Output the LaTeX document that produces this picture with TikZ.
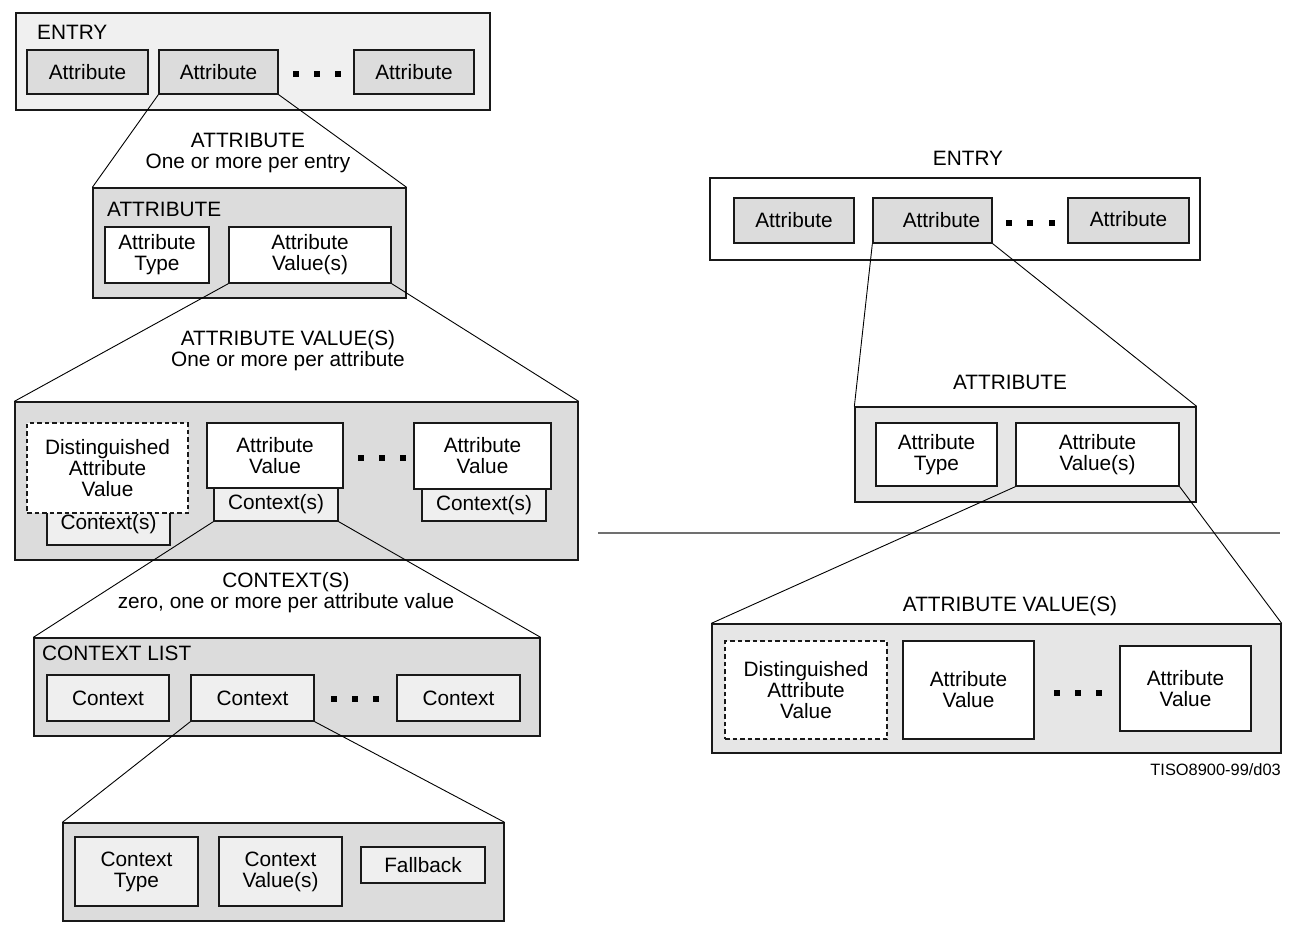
\documentclass[tikz,border=0pt]{standalone}
\usepackage{fontspec}
\setmainfont{Liberation Sans}
\definecolor{cF0}{HTML}{F0F0F0}
\definecolor{cDC}{HTML}{DCDCDC}
\definecolor{cEF}{HTML}{EFEFEF}
\definecolor{cE6}{HTML}{E6E6E6}
\definecolor{rulegray}{HTML}{707070}
\newcommand\bx[7]{\node[boxy,#6,minimum width={(#4)-(#2)},minimum height={(#5)-(#3)}] (#1) at ({((#2)+(#4))/2},{((#3)+(#5))/2}) {#7};}
\newcommand\sqdot[2]{\fill (#1-2.6,#2-2.6) rectangle (#1+2.6,#2+2.6);}
\tikzset{
  every node/.style={font={\fontsize{20.8}{21}\selectfont},inner sep=0pt,align=center},
  boxy/.style={draw=black!90,line width=1.3pt},
  dashbox/.style={dash pattern=on 4.5pt off 3pt},
  conn/.style={draw=black,line width=0.9pt},
  capt/.style={},
  small/.style={font={\fontsize{16.4}{18}\selectfont}}
}
\begin{document}
\begin{tikzpicture}[x=1pt,y=-1pt]
\useasboundingbox (0,0) rectangle (1290,929);
% ---------------- left: ENTRY
\bx{lentry}{16}{13}{490}{110}{fill=cF0}{}
\node[anchor=west] (lentrylbl) at (37,32) {ENTRY};
\bx{la1}{27}{50}{148}{94}{fill=cDC}{Attribute}
\bx{la2}{159}{50}{278}{94}{fill=cDC}{Attribute}
\bx{la3}{354}{50}{474}{94}{fill=cDC}{Attribute}
\sqdot{296}{74}\sqdot{317}{74}\sqdot{338}{74}
% ---------------- left: ATTRIBUTE
\node[capt] (lattrcap) at (248,153) {ATTRIBUTE\\One or more per entry};
\bx{lattr}{93}{188}{406}{298}{fill=cDC}{}
\node[anchor=west] (lattrlbl) at (107,209) {ATTRIBUTE};
\bx{ltype}{105}{227}{209}{283}{fill=white}{Attribute\\Type}
\bx{lval}{229}{227}{391}{283}{fill=white}{Attribute\\Value(s)}
% ---------------- left: ATTRIBUTE VALUE(S)
\node[capt] (lavcap) at (288,351) {ATTRIBUTE VALUE(S)\\One or more per attribute};
\bx{lav}{15}{402}{578}{560}{fill=cDC}{}
\bx{lc1}{47}{503}{170}{545}{fill=cEF}{\raisebox{-5pt}{Context(s)}}
\bx{ldav}{27}{423}{188}{513}{dashbox,fill=white}{Distinguished\\Attribute\\Value}
\bx{lc2}{214}{488}{338}{521}{fill=cEF}{Context(s)}
\bx{lav2}{207}{423}{343}{488}{fill=white}{Attribute\\Value}
\bx{lc3}{422}{489}{546}{521}{fill=cEF}{Context(s)}
\bx{lav3}{414}{423}{551}{489}{fill=white}{Attribute\\Value}
\sqdot{361}{458}\sqdot{382}{458}\sqdot{403}{458}
% ---------------- left: CONTEXT LIST
\node[capt] (lctxcap) at (286,593) {CONTEXT(S)\\zero, one or more per attribute value};
\bx{lcl}{34}{638}{540}{736}{fill=cDC}{}
\node[anchor=west] (lcllbl) at (42,653) {CONTEXT LIST};
\bx{lk1}{47}{675}{169}{721}{fill=cEF}{Context}
\bx{lk2}{191}{675}{314}{721}{fill=cEF}{Context}
\bx{lk3}{397}{675}{520}{721}{fill=cEF}{Context}
\sqdot{334}{699}\sqdot{355}{699}\sqdot{376}{699}
% ---------------- left: context detail
\bx{lbot}{63}{823}{504}{921}{fill=cDC}{}
\bx{lct}{75}{837}{198}{906}{fill=cEF}{Context\\Type}
\bx{lcv}{219}{837}{342}{906}{fill=cEF}{Context\\Value(s)}
\bx{lfb}{361}{847}{485}{883}{fill=cEF}{Fallback}
% ---------------- left connectors
\draw[conn] (la2.south west) -- (lattr.north west);
\draw[conn] (la2.south east) -- (lattr.north east);
\draw[conn] (lval.south west) -- (lav.north west);
\draw[conn] (lval.south east) -- (lav.north east);
\draw[conn] (lc2.south west) -- (lcl.north west);
\draw[conn] (lc2.south east) -- (lcl.north east);
\draw[conn] (lk2.south west) -- (lbot.north west);
\draw[conn] (lk2.south east) -- (lbot.north east);
% ---------------- right: ENTRY
\node[capt] (rentrycap) at (968,158) {ENTRY};
\bx{rentry}{710}{178}{1200}{260}{fill=white}{}
\bx{ra1}{734}{198}{854}{243}{fill=cDC}{Attribute}
\bx{ra2}{873}{198}{992}{243}{fill=cDC}{\hspace*{18pt}\raisebox{-2pt}{Attribute}}
\bx{ra3}{1068}{198}{1189}{243}{fill=cDC}{\raisebox{3pt}{Attribute}}
\sqdot{1009}{223}\sqdot{1030}{223}\sqdot{1052}{223}
% ---------------- right: ATTRIBUTE
\node[capt] (rattrcap) at (1010,382) {ATTRIBUTE};
\bx{rattr}{855}{407}{1196}{502}{fill=cE6}{}
\bx{rtype}{876}{423}{997}{486}{fill=white}{Attribute\\Type}
\bx{rval}{1016}{423}{1179}{486}{fill=white}{Attribute\\Value(s)}
% ---------------- separator
\coordinate (sepL) at (598,533);
\coordinate (sepR) at (1280,533);
\draw[draw=rulegray,line width=1.1pt] (sepL) -- (sepR);
% ---------------- right: ATTRIBUTE VALUE(S)
\node[capt] (ravcap) at (1010,606) {ATTRIBUTE VALUE(S)};
\bx{rav}{712}{624}{1281}{753}{fill=cE6}{}
\bx{rdav}{725}{641}{887}{739}{dashbox,fill=white}{Distinguished\\Attribute\\Value}
\bx{rav2}{903}{641}{1034}{739}{fill=white}{Attribute\\Value}
\bx{rav3}{1120}{646}{1251}{731}{fill=white}{Attribute\\Value}
\sqdot{1057}{693}\sqdot{1078}{693}\sqdot{1099}{693}
\node[small,anchor=east] (tiso) at (1281,770) {TISO8900-99/d03};
% ---------------- right connectors
\draw[conn] (ra2.south west) -- (rattr.north west);
\draw[conn] (ra2.south east) -- (rattr.north east);
\draw[conn] (rval.south west) -- (rav.north west);
\draw[conn] (rval.south east) -- (rav.north east);
\end{tikzpicture}
\end{document}
